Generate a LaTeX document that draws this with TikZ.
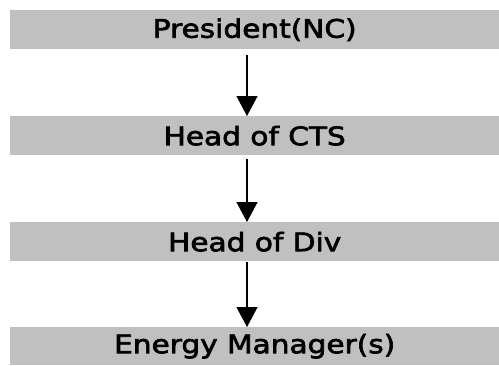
\documentclass[tikz,border=0pt]{standalone}
\usepackage{fontspec}
\setmainfont{DejaVu Sans}[FakeStretch=1.16,FakeBold=2.5]
\usetikzlibrary{arrows.meta}
\begin{document}
\begin{tikzpicture}[x=1pt,y=-1pt,
  bar/.style={fill=barGray, draw=none, inner sep=0pt, minimum width=489pt, anchor=north west, font=\fontsize{25.5}{27}\selectfont, text=black},
  conn/.style={line width=1.4pt, -{Triangle[length=20pt,width=21pt]}}]
\definecolor{barGray}{HTML}{C0C0C0}
\useasboundingbox (0,0) rectangle (499,365);
\node[bar, minimum height=39pt] (p) at (10,10) {President(NC)};
\node[bar, minimum height=39pt] (c) at (10,116) {Head of CTS};
\node[bar, minimum height=39pt] (d) at (10,222) {Head of Div};
\node[bar, minimum height=38pt] (e) at (10,327) {Energy Manager(s)};
\coordinate (a1s) at (247,55); \coordinate (a1e) at (247,116);
\coordinate (a2s) at (247,159); \coordinate (a2e) at (247,222);
\coordinate (a3s) at (247,262); \coordinate (a3e) at (247,327);
\draw[conn] (a1s) -- (a1e);
\draw[conn] (a2s) -- (a2e);
\draw[conn] (a3s) -- (a3e);
\end{tikzpicture}
\end{document}
